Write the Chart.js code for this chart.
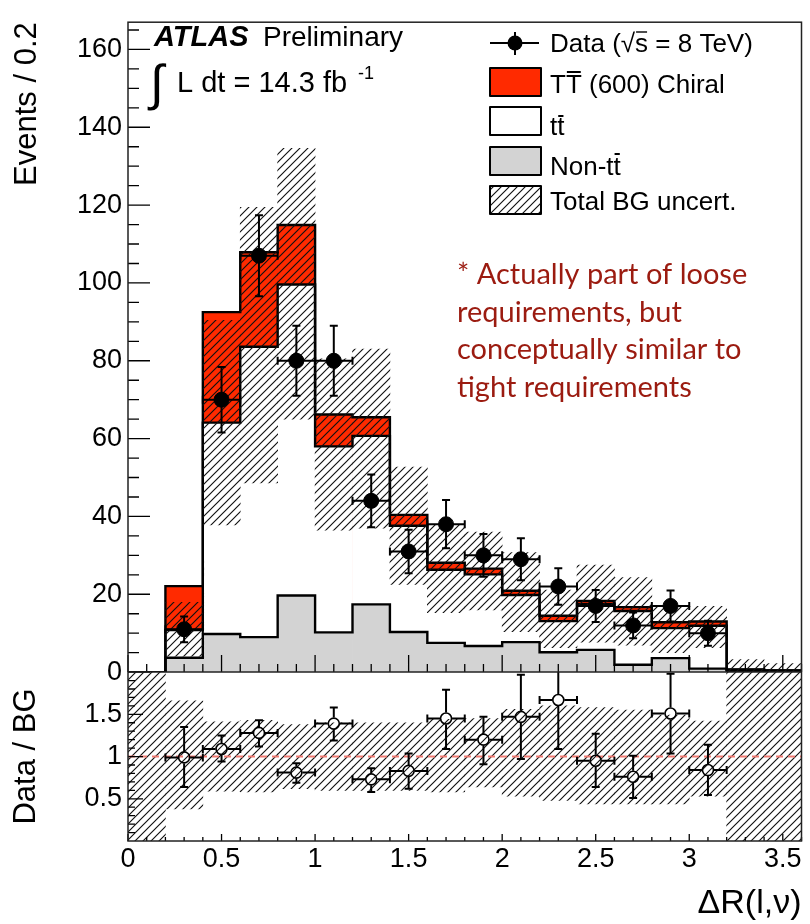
<!DOCTYPE html>
<html>
<head>
<meta charset="utf-8">
<script src="https://cdn.jsdelivr.net/npm/chart.js@4.4.1/dist/chart.umd.min.js"></script>
<style>
  html, body { margin: 0; padding: 0; background: #fff; }
  #wrap { width: 810px; height: 924px; }
</style>
</head>
<body>
<div id="wrap"><canvas id="plot" width="810" height="924"></canvas></div>
<script>
// --- bins (width 0.2) ---
const binCenters = [0.1, 0.3, 0.5, 0.7, 0.9, 1.1, 1.3, 1.5, 1.7, 1.9, 2.1, 2.3, 2.5, 2.7, 2.9, 3.1, 3.3, 3.5];
const binHalf = 0.1;

// stacked tops
const nonTtTop  = [0, 3.7, 9.8, 9.0, 19.7, 10.2, 17.4, 10.3, 7.5, 6.7, 7.7, 5.1, 5.7, 1.9, 3.6, 0.9, 0.3, 0.2];
const ttTop     = [0, 10.8, 64.1, 83.6, 99.6, 58.0, 60.7, 37.6, 26.3, 25.1, 19.8, 13.1, 17.5, 15.7, 11.3, 11.9, 0.6, 0.4];
const signalTop = [0, 22.1, 92.5, 107.9, 114.9, 66.2, 65.5, 40.4, 28.1, 26.6, 20.9, 14.5, 18.3, 16.7, 12.8, 13.0, 0.7, 0.4];

// total BG uncertainty band (main panel)
const bandLow  = [null, 4.1, 37.8, 48.6, 65.0, 36.5, 37.0, 22.5, 15.3, 16.0, 10.4, 6.3, 7.7, 6.9, 5.0, 6.3, 0, 0];
const bandHigh = [null, 17.9, 90.4, 119.4, 134.6, 80.5, 83.0, 52.7, 38.0, 36.0, 30.7, 21.1, 27.5, 24.3, 16.8, 16.9, 3.2, 2.2];

// data
const dataCenters = [0.3, 0.5, 0.7, 0.9, 1.1, 1.3, 1.5, 1.7, 1.9, 2.1, 2.3, 2.5, 2.7, 2.9, 3.1];
const dataValues  = [11, 70, 107, 80, 80, 44, 31, 38, 30, 29, 22, 17, 12, 17, 10];
const dataErrors  = [3.3, 8.4, 10.4, 9.0, 9.0, 6.8, 5.6, 6.2, 5.5, 5.4, 4.7, 4.1, 3.3, 4.0, 3.2];

// ratio panel
const ratioValues  = [0.99, 1.09, 1.28, 0.81, 1.39, 0.73, 0.83, 1.45, 1.20, 1.47, 1.67, 0.95, 0.76, 1.51, 0.84];
const ratioErrLow  = [0.64, 0.94, 1.12, 0.69, 1.19, 0.58, 0.62, 1.09, 0.91, 0.97, 1.09, 0.64, 0.51, 1.035, 0.545];
const ratioErrHigh = [1.35, 1.25, 1.43, 0.92, 1.58, 0.86, 1.035, 1.79, 1.47, 1.97, 2.05, 1.27, 1.01, 1.98, 1.14];
const ratioBandLow  = [0, 0.38, 0.59, 0.58, 0.62, 0.60, 0.60, 0.60, 0.58, 0.64, 0.53, 0.48, 0.44, 0.44, 0.44, 0.53, 0, 0];
const ratioBandHigh = [2, 1.66, 1.41, 1.43, 1.38, 1.40, 1.40, 1.40, 1.44, 1.45, 1.56, 1.60, 1.58, 1.55, 1.49, 1.42, 2, 2];

// ticks
const xTicks = [0, 0.5, 1, 1.5, 2, 2.5, 3, 3.5];
const yTicksMain = [0, 20, 40, 60, 80, 100, 120, 140, 160];
const yTicksRatio = [0.5, 1, 1.5];

const noteLines = ['* Actually part of loose', 'requirements, but', 'conceptually similar to', 'tight requirements'];

const RED = '#ff2a00';
const GREY = '#d3d3d3';
const FONT = '"Liberation Sans", Arial, sans-serif';

Chart.defaults.font.family = FONT;
Chart.defaults.color = '#000';

// hatch pattern for the uncertainty band
function makeHatch() {
    const c = document.createElement('canvas');
    c.width = 8; c.height = 8;
    const g = c.getContext('2d');
    g.strokeStyle = '#111';
    g.lineWidth = 1.15;
    g.beginPath();
    g.moveTo(-1, 9); g.lineTo(9, -1);
    g.moveTo(-1, 1); g.lineTo(1, -1);
    g.moveTo(7, 9); g.lineTo(9, 7);
    g.stroke();
    return g.createPattern(c, 'repeat');
}
const hatch = makeHatch();

const bars = (vals) => binCenters.map((x, i) => ({ x, y: vals[i] }));
const ranges = (lo, hi) => binCenters.map((x, i) => ({ x, y: lo[i] === null ? null : [lo[i], hi[i]] }));
function stepPoints(tops) {
    const pts = binCenters.map((c, i) => ({ x: c - binHalf, y: tops[i] }));
    pts.push({ x: binCenters[binCenters.length - 1] + binHalf, y: tops[tops.length - 1] });
    return pts;
}

// === error bars (drawn right before the points of a dataset) ===
const errorBarPlugin = {
    id: 'errorBars',
    beforeDatasetDraw(chart, args) {
        const ds = chart.data.datasets[args.index];
        if (!ds.errorBars) return;
        const eb = ds.errorBars;
        const xs = chart.scales.x;
        const ys = chart.scales[ds.yAxisID];
        const ctx = chart.ctx;
        ctx.save();
        ctx.beginPath();
        ctx.rect(xs.left, ys.top, xs.right - xs.left, ys.bottom - ys.top);
        ctx.clip();
        ctx.strokeStyle = '#000';
        ctx.lineWidth = 2;
        const cap = 4;
        args.meta.data.forEach((pt, i) => {
            const px = pt.x, py = pt.y;
            const yHi = ys.getPixelForValue(eb.high[i]);
            const yLo = ys.getPixelForValue(eb.low[i]);
            const xL = xs.getPixelForValue(dataCenters[i] - binHalf);
            const xR = xs.getPixelForValue(dataCenters[i] + binHalf);
            const g = eb.gap;
            ctx.beginPath();
            ctx.moveTo(px, py - g); ctx.lineTo(px, yHi);
            ctx.moveTo(px, py + g); ctx.lineTo(px, yLo);
            ctx.moveTo(px - g, py); ctx.lineTo(xL, py);
            ctx.moveTo(px + g, py); ctx.lineTo(xR, py);
            ctx.moveTo(px - cap, yHi); ctx.lineTo(px + cap, yHi);
            ctx.moveTo(px - cap, yLo); ctx.lineTo(px + cap, yLo);
            ctx.moveTo(xL, py - cap); ctx.lineTo(xL, py + cap);
            ctx.moveTo(xR, py - cap); ctx.lineTo(xR, py + cap);
            ctx.stroke();
        });
        ctx.restore();
    }
};

// === frame, inward ticks, legend and labels ===
const decorPlugin = {
    id: 'decor',
    afterDatasetsDraw(chart) {
        const ctx = chart.ctx;
        const xs = chart.scales.x, ym = chart.scales.y, yr = chart.scales.yr;
        ctx.save();
        ctx.strokeStyle = '#000';
        ctx.lineWidth = 1.3;
        ctx.beginPath();
        for (let k = 0; k <= 36; k++) {
            const px = xs.getPixelForValue(k / 10);
            const major = k % 5 === 0;
            ctx.moveTo(px, ym.bottom); ctx.lineTo(px, ym.bottom - (major ? 17 : 8));
            ctx.moveTo(px, yr.bottom); ctx.lineTo(px, yr.bottom - (major ? 7 : 4));
        }
        for (let v = 0; v <= 165; v += 5) {
            const py = ym.getPixelForValue(v);
            ctx.moveTo(xs.left, py); ctx.lineTo(xs.left + (v % 20 === 0 ? 22 : 11), py);
        }
        for (let k = 1; k < 20; k++) {
            const py = yr.getPixelForValue(k / 10);
            ctx.moveTo(xs.left, py); ctx.lineTo(xs.left + (k % 5 === 0 ? 15 : 7), py);
        }
        ctx.stroke();

        // frame
        ctx.lineWidth = 1.5;
        ctx.strokeStyle = '#222';
        ctx.strokeRect(xs.left, ym.top, xs.right - xs.left, yr.bottom - ym.top);
        ctx.beginPath();
        ctx.moveTo(xs.left, ym.bottom); ctx.lineTo(xs.right, ym.bottom);
        ctx.stroke();
        ctx.restore();
    },
    afterDraw(chart) {
        const ctx = chart.ctx;
        ctx.save();
        ctx.fillStyle = '#000';
        ctx.textBaseline = 'alphabetic';

        // ATLAS label
        ctx.font = 'italic bold 29px ' + FONT;
        ctx.fillText('ATLAS', 154, 46);
        ctx.font = '28px ' + FONT;
        ctx.fillText('Preliminary', 263, 46);
        ctx.font = '50px ' + FONT;
        ctx.fillText('\u222B', 150, 100);
        ctx.font = '29px ' + FONT;
        ctx.fillText('L dt = 14.3 fb', 177, 92);
        ctx.font = '18px ' + FONT;
        ctx.fillText('-1', 358, 79);

        // legend
        const bx = 490, bw = 51, tx = 550;
        ctx.lineWidth = 2;
        ctx.strokeStyle = '#000';
        ctx.lineJoin = 'round';
        ctx.beginPath();
        ctx.moveTo(bx, 43); ctx.lineTo(bx + 49, 43);
        ctx.moveTo(515, 32); ctx.lineTo(515, 55);
        ctx.stroke();
        ctx.beginPath(); ctx.arc(515, 43, 7.5, 0, Math.PI * 2); ctx.fill();

        const boxes = [
            { y: 68, fill: RED },
            { y: 107, fill: '#fff' },
            { y: 147, fill: GREY },
            { y: 186, fill: '#fff', hatch: true }
        ];
        boxes.forEach(b => {
            ctx.fillStyle = b.fill;
            ctx.fillRect(bx, b.y, bw, 28);
            if (b.hatch) { ctx.fillStyle = hatch; ctx.fillRect(bx, b.y, bw, 28); }
            ctx.strokeRect(bx, b.y, bw, 28);
        });

        ctx.fillStyle = '#000';
        ctx.font = '26px ' + FONT;
        const over = (pre, mark, y) => {
            const a = tx + ctx.measureText(pre).width;
            const b = tx + ctx.measureText(pre + mark).width;
            ctx.beginPath(); ctx.moveTo(a + 1, y); ctx.lineTo(b - 1, y); ctx.stroke();
        };
        ctx.fillText('Data (\u221As = 8 TeV)', tx, 52);
        ctx.lineWidth = 1.4;
        over('Data (\u221A', 's', 32);
        ctx.fillText('TT (600) Chiral', tx, 93);
        ctx.lineWidth = 2;
        over('T', 'T', 72);
        ctx.fillText('tt', tx, 135);
        over('t', 't', 116);
        ctx.fillText('Non-tt', tx, 175);
        over('Non-t', 't', 154);
        ctx.fillText('Total BG uncert.', tx, 210);

        // note
        ctx.fillStyle = '#9b1b10';
        ctx.font = '29px Lato, "Open Sans", sans-serif';
        noteLines.forEach((t, i) => ctx.fillText(t, 457, 284 + i * 37.7));
        ctx.restore();
    }
};

new Chart(document.getElementById('plot'), {
    type: 'bar',
    data: {
        datasets: [
            { label: 'TT (600) Chiral', data: bars(signalTop), backgroundColor: RED, yAxisID: 'y', order: 20 },
            { label: 'tt', data: bars(ttTop), backgroundColor: '#fff', yAxisID: 'y', order: 19 },
            { label: 'Non-tt', data: bars(nonTtTop), backgroundColor: GREY, yAxisID: 'y', order: 18 },
            { type: 'line', data: stepPoints(signalTop), stepped: true, borderColor: '#000', borderWidth: 2.4, pointRadius: 0, fill: false, yAxisID: 'y', order: 17 },
            { type: 'line', data: stepPoints(ttTop), stepped: true, borderColor: '#000', borderWidth: 2.4, pointRadius: 0, fill: false, yAxisID: 'y', order: 16 },
            { type: 'line', data: stepPoints(nonTtTop), stepped: true, borderColor: '#000', borderWidth: 2.4, pointRadius: 0, fill: false, yAxisID: 'y', order: 15 },
            { label: 'Total BG uncert.', data: ranges(bandLow, bandHigh), backgroundColor: hatch, yAxisID: 'y', order: 14 },
            { data: ranges(ratioBandLow, ratioBandHigh), backgroundColor: hatch, yAxisID: 'yr', order: 14 },
            { type: 'line', data: [{ x: 0, y: 1 }, { x: 3.6, y: 1 }], borderColor: '#f07a72', borderWidth: 2, borderDash: [7, 5], pointRadius: 0, fill: false, yAxisID: 'yr', order: 13 },
            {
                type: 'scatter', label: 'Data',
                data: dataCenters.map((x, i) => ({ x, y: dataValues[i] })),
                pointRadius: 7.5, pointBackgroundColor: '#000', pointBorderColor: '#000', pointBorderWidth: 1,
                yAxisID: 'y', order: 2,
                errorBars: { low: dataValues.map((v, i) => v - dataErrors[i]), high: dataValues.map((v, i) => v + dataErrors[i]), gap: 0 }
            },
            {
                type: 'scatter',
                data: dataCenters.map((x, i) => ({ x, y: ratioValues[i] })),
                pointRadius: 5.5, pointBackgroundColor: 'rgba(0,0,0,0)', pointBorderColor: '#000', pointBorderWidth: 1.6,
                yAxisID: 'yr', order: 1,
                errorBars: { low: ratioErrLow, high: ratioErrHigh, gap: 6 }
            }
        ]
    },
    options: {
        responsive: false,
        animation: false,
        events: [],
        layout: { padding: { top: 12, right: 5, left: 0, bottom: 0 } },
        datasets: {
            bar: { grouped: false, categoryPercentage: 1, barPercentage: 1, borderWidth: 0 }
        },
        plugins: { legend: { display: false }, tooltip: { enabled: false } },
        scales: {
            x: {
                type: 'linear', min: 0, max: 3.6, offset: false,
                grid: { display: false, drawTicks: false }, border: { display: false },
                ticks: { font: { size: 27 }, color: '#000', padding: 2, maxRotation: 0, autoSkip: false, callback: v => String(v) },
                afterBuildTicks: s => { s.ticks = xTicks.map(v => ({ value: v })); },
                afterFit: s => { s.height = 83; },
                title: { display: true, text: '\u0394R(l,\u03BD)', align: 'end', font: { size: 34 }, color: '#000', padding: { top: 0, bottom: 0 } }
            },
            y: {
                type: 'linear', position: 'left', stack: 'panels', stackWeight: 658, weight: 1,
                min: 0, max: 167,
                grid: { display: false, drawTicks: false }, border: { display: false },
                ticks: { font: { size: 27 }, color: '#000', padding: 6, callback: v => String(v) },
                afterBuildTicks: s => { s.ticks = yTicksMain.map(v => ({ value: v })); },
                afterFit: s => { s.width = 128; },
                title: { display: true, text: 'Events / 0.2', align: 'end', font: { size: 31 }, color: '#000', padding: { top: 9, bottom: 0 } }
            },
            yr: {
                type: 'linear', position: 'left', stack: 'panels', stackWeight: 171, weight: 0,
                min: 0, max: 2,
                grid: { display: false, drawTicks: false }, border: { display: false },
                ticks: { font: { size: 27 }, color: '#000', padding: 6, callback: v => String(v) },
                afterBuildTicks: s => { s.ticks = yTicksRatio.map(v => ({ value: v })); },
                afterFit: s => { s.width = 128; },
                title: { display: true, text: 'Data / BG', align: 'center', font: { size: 31 }, color: '#000', padding: { top: 8, bottom: 0 } }
            }
        }
    },
    plugins: [errorBarPlugin, decorPlugin]
});
</script>
</body>
</html>
